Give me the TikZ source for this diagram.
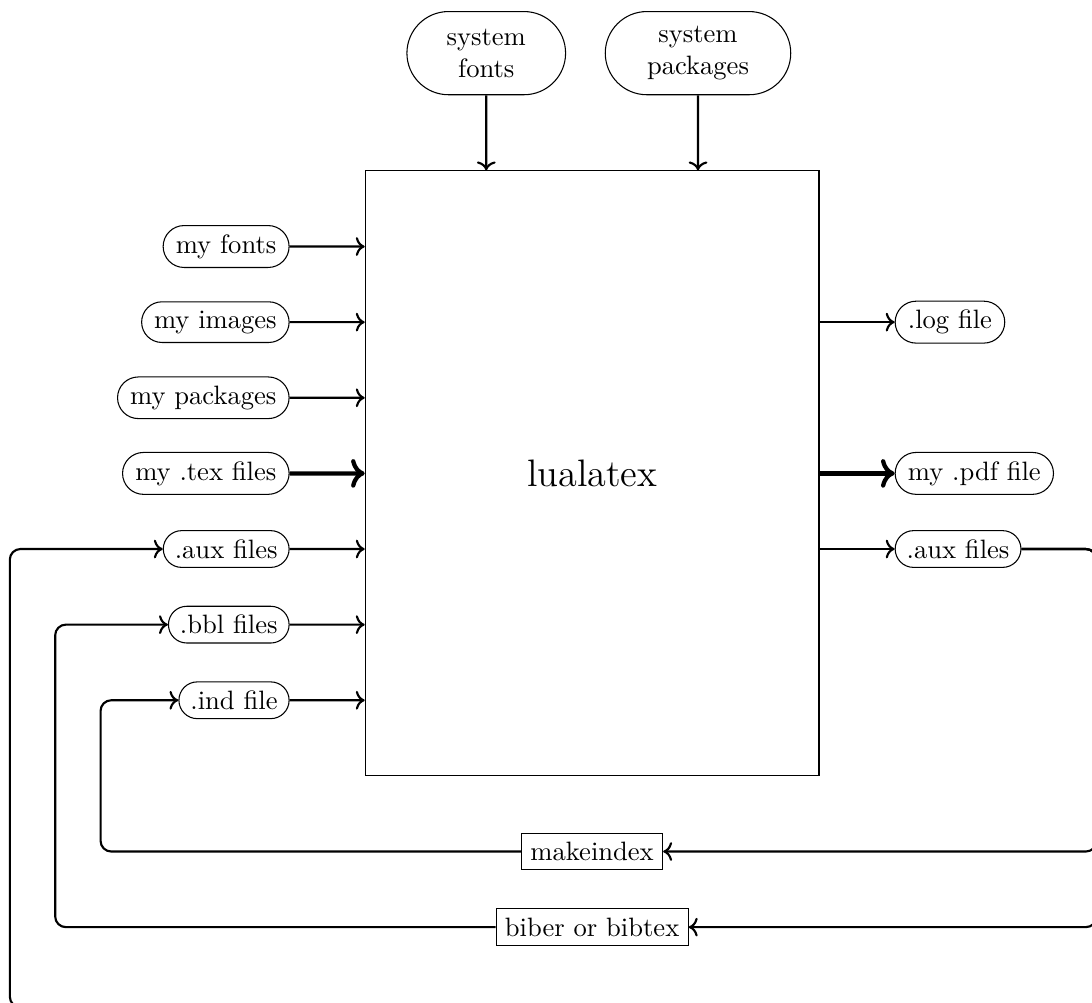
\documentclass[tikz,border=0pt]{standalone}
\usepackage{tikz}
\usetikzlibrary{shapes.misc, arrows.meta}

\begin{document}
\begin{tikzpicture}[
  >={To},
  file/.style={draw, rounded rectangle},
  sysfile/.style={draw, rounded rectangle, align=center, minimum height=1.1cm, inner xsep=12pt},
  tool/.style={draw, rectangle},
  flow/.style={->, thick},
  mainflow/.style={->, ultra thick},
  feedback/.style={->, thick, rounded corners}
  ]
  \clip (-7.83,-7.0) rectangle (6.61,6.26);
  \node [draw, minimum width=6cm, minimum height=8cm, font=\Large] (lualatex) {lualatex};

  % system inputs
  \node [sysfile, anchor=south] (sysfonts) at (-1.4,5) {system\\fonts};
  \node [sysfile, anchor=south] (syspackages) at (1.4,5) {system\\packages};

  % my inputs
  \node [file, anchor=east] (myfonts) at (-4,3) {my fonts};
  \node [file, anchor=east] (myimages) at (-4,2) {my images};
  \node [file, anchor=east] (mypackages) at (-4,1) {my packages};
  \node [file, anchor=east] (mytex) at (-4,0) {my .tex files};
  \node [file, anchor=east] (auxin) at (-4,-1) {.aux files};
  \node [file, anchor=east] (bblin) at (-4,-2) {.bbl files};
  \node [file, anchor=east] (indin) at (-4,-3) {.ind file};

  % outputs
  \node [file, anchor=west] (logout) at (4,2) {.log file};
  \node [file, anchor=west] (pdfout) at (4,0) {my .pdf file};
  \node [file, anchor=west] (auxout) at (4,-1) {.aux files};

  % tools
  \node [tool] (makeindex) at (0,-5) {makeindex};
  \node [tool] (biber) at (0,-6) {biber or bibtex};

  \coordinate (bus) at (6.67,-1);
  \coordinate (indturn) at (-6.5,-5);
  \coordinate (bblturn) at (-7.1,-6);
  \coordinate (auxdown) at (6.67,-7.06);
  \coordinate (auxturn) at (-7.7,-7.06);

  \draw [flow] (sysfonts) -- (sysfonts |- lualatex.north);
  \draw [flow] (syspackages) -- (syspackages |- lualatex.north);

  \draw [flow] (myfonts) -- (myfonts -| lualatex.west);
  \draw [flow] (myimages) -- (myimages -| lualatex.west);
  \draw [flow] (mypackages) -- (mypackages -| lualatex.west);
  \draw [mainflow] (mytex) -- (mytex -| lualatex.west);
  \draw [flow] (auxin) -- (auxin -| lualatex.west);
  \draw [flow] (bblin) -- (bblin -| lualatex.west);
  \draw [flow] (indin) -- (indin -| lualatex.west);

  \draw [flow] (logout -| lualatex.east) -- (logout);
  \draw [mainflow] (pdfout -| lualatex.east) -- (pdfout);
  \draw [flow] (auxout -| lualatex.east) -- (auxout);

  % feedback loops
  \draw [feedback] (auxout.east) -- (bus) |- (makeindex.east);
  \draw [feedback] (auxout.east) -- (bus) |- (biber.east);
  \draw [feedback] (makeindex.west) -- (indturn) |- (indin.west);
  \draw [feedback] (biber.west) -- (bblturn) |- (bblin.west);
  \draw [feedback] (auxout.east) -- (bus) -- (auxdown) -- (auxturn) |- (auxin.west);
\end{tikzpicture}
\end{document}
